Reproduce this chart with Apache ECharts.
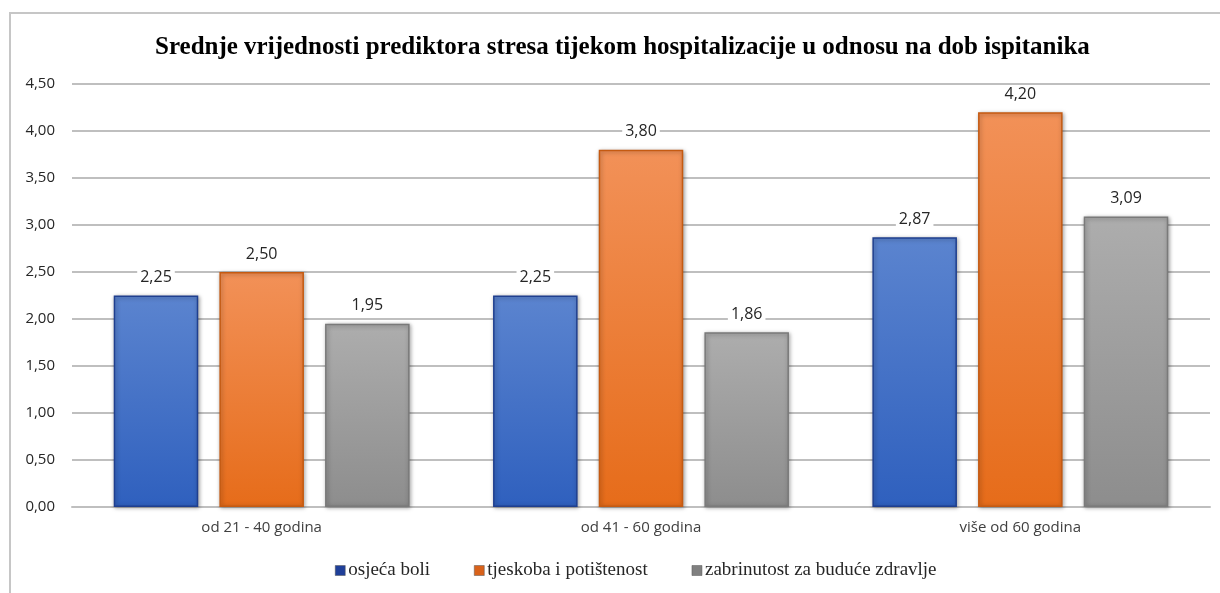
<!DOCTYPE html>
<html>
<head>
<meta charset="utf-8">
<script src="https://cdn.jsdelivr.net/npm/echarts@6/dist/echarts.min.js"></script>
<style>
  html, body { margin: 0; padding: 0; background: #fff; }
  #chart { width: 1220px; height: 593px; }
</style>
</head>
<body>
<div id="chart"></div>
<script>
const categories = ['od 21 - 40 godina', 'od 41 - 60 godina', 'više od 60 godina']
const seriesNames = ['osjeća boli', 'tjeskoba i potištenost', 'zabrinutost za buduće zdravlje']
const bol = [2.25, 2.25, 2.87]
const tjeskoba = [2.50, 3.80, 4.20]
const zabrinutost = [1.95, 1.86, 3.09]

// gradient top, gradient bottom, border
const looks = [
  ['#5b84cf', '#2f60be', '#1f3f8f'],
  ['#f29158', '#e66c1a', '#c55a11'],
  ['#adadad', '#8d8d8d', '#7a7a7a']
]
const legendColors = ['#1f3f99', '#d9621a', '#808080']

const fmt = v => v.toFixed(2).replace('.', ',')

function makeSeries (name, data, i) {
  return {
    name: name,
    type: 'bar',
    data: data,
    barGap: '25%',
    barCategoryGap: '22%',
    itemStyle: {
      color: new echarts.graphic.LinearGradient(0, 0, 0, 1, [
        { offset: 0, color: looks[i][0] },
        { offset: 1, color: looks[i][1] }
      ]),
      borderColor: looks[i][2],
      borderWidth: 1.5,
      shadowBlur: 4,
      shadowColor: 'rgba(0,0,0,0.35)',
      shadowOffsetX: 1,
      shadowOffsetY: 1
    },
    label: {
      show: true,
      position: 'top',
      distance: 10,
      formatter: p => fmt(p.value),
      fontFamily: 'Open Sans, Liberation Sans, sans-serif',
      fontSize: 16,
      color: '#262626',
      backgroundColor: '#fff',
      padding: [0, 3]
    }
  }
}

const chart = echarts.init(document.getElementById('chart'))
chart.setOption({
  animation: false,
  color: legendColors,
  title: {
    text: 'Srednje vrijednosti prediktora stresa tijekom hospitalizacije u odnosu na dob ispitanika',
    left: 150,
    top: 30,
    textStyle: {
      fontFamily: 'Liberation Serif, Times New Roman, serif',
      fontWeight: 'bold',
      fontSize: 25,
      color: '#000'
    }
  },
  legend: {
    data: seriesNames.map((n, i) => ({ name: n, itemStyle: { color: legendColors[i], borderColor: '#555', borderWidth: 0.5 } })),
    bottom: 8,
    left: 330,
    itemWidth: 10,
    itemHeight: 10,
    itemGap: 44,
    icon: 'rect',
    textStyle: {
      fontFamily: 'Liberation Serif, Times New Roman, serif',
      fontSize: 19,
      color: '#262626',
      padding: [0, 0, 0, -2]
    }
  },
  grid: {
    left: 72,
    right: 10,
    top: 84,
    bottom: 86
  },
  xAxis: {
    type: 'category',
    data: categories,
    axisTick: { show: false },
    axisLine: { lineStyle: { color: '#bfbfbf', width: 2 } },
    axisLabel: {
      margin: 13,
      fontFamily: 'Open Sans, Liberation Sans, sans-serif',
      fontSize: 15,
      color: '#404040'
    }
  },
  yAxis: {
    type: 'value',
    min: 0,
    max: 4.5,
    interval: 0.5,
    axisLine: { show: false },
    axisTick: { show: false },
    splitLine: { lineStyle: { color: '#bfbfbf', width: 2 } },
    axisLabel: {
      margin: 17,
      formatter: v => fmt(v),
      fontFamily: 'Open Sans, Liberation Sans, sans-serif',
      fontSize: 15,
      color: '#262626'
    }
  },
  graphic: [{
    type: 'polyline',
    silent: true,
    shape: { points: [[10, 593], [10, 13], [1220, 13]] },
    style: { stroke: '#c6c6c6', lineWidth: 2, fill: null }
  }],
  series: [
    makeSeries(seriesNames[0], bol, 0),
    makeSeries(seriesNames[1], tjeskoba, 1),
    makeSeries(seriesNames[2], zabrinutost, 2)
  ]
})
</script>
</body>
</html>
